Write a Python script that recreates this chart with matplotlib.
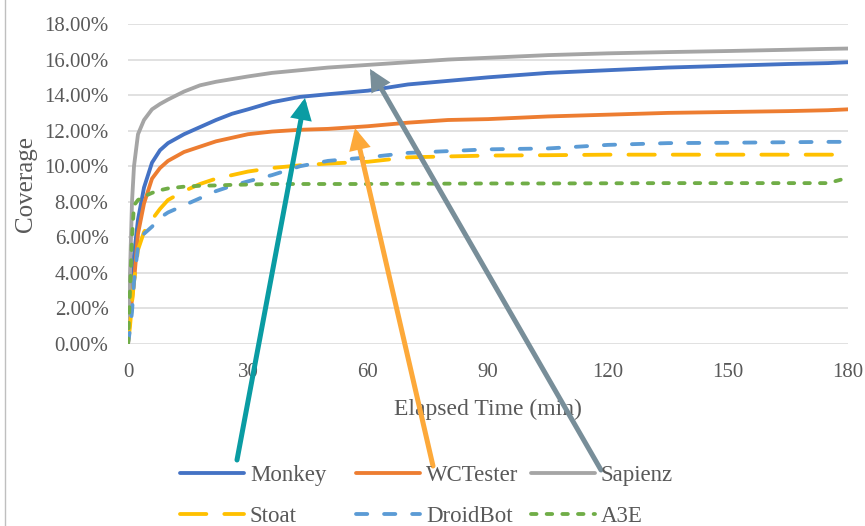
import matplotlib
matplotlib.use("Agg")
import matplotlib.pyplot as plt
from matplotlib.ticker import PercentFormatter, MultipleLocator
from matplotlib.lines import Line2D

# ---- data: coverage (%) over elapsed time (min) ----
minutes = [0, 0.5, 1, 1.5, 2.5, 4, 6, 8, 10, 14, 18, 22, 26, 30, 36, 43, 50,
           60, 70, 80, 90, 105, 120, 135, 150, 165, 175, 180]

monkey = [0, 2.0, 3.5, 5.0, 7.0, 8.8, 10.2, 10.9, 11.3, 11.8, 12.2, 12.6, 12.95,
          13.2, 13.6, 13.9, 14.05, 14.25, 14.6, 14.8, 15.0, 15.25, 15.4, 15.55,
          15.65, 15.75, 15.8, 15.85]
wctester = [0, 1.5, 2.5, 3.5, 6.2, 7.9, 9.3, 9.9, 10.3, 10.8, 11.1, 11.4, 11.6,
            11.8, 11.95, 12.05, 12.1, 12.25, 12.45, 12.6, 12.65, 12.8, 12.9,
            13.0, 13.05, 13.1, 13.15, 13.2]
sapienz = [0, 4.0, 8.0, 10.0, 11.8, 12.6, 13.2, 13.5, 13.75, 14.2, 14.55, 14.75,
           14.9, 15.05, 15.25, 15.4, 15.55, 15.7, 15.85, 16.0, 16.1, 16.25,
           16.35, 16.42, 16.48, 16.55, 16.6, 16.62]
stoat = [0, 1.0, 2.3, 3.5, 5.3, 6.3, 7.0, 7.6, 8.1, 8.6, 9.0, 9.3, 9.5, 9.7, 9.9,
         10.05, 10.15, 10.25, 10.5, 10.55, 10.6, 10.62, 10.65, 10.65, 10.65,
         10.65, 10.65, 10.65]
droidbot = [0, 0.8, 1.8, 3.5, 5.5, 6.2, 6.6, 7.1, 7.4, 7.8, 8.2, 8.6, 8.9, 9.15,
            9.5, 10.0, 10.3, 10.5, 10.75, 10.85, 10.95, 11.0, 11.2, 11.3, 11.32,
            11.35, 11.37, 11.37]
a3e = [0, 3.0, 6.0, 7.8, 8.1, 8.3, 8.5, 8.65, 8.75, 8.85, 8.9, 8.92, 8.95, 8.97,
       9.0, 9.0, 9.0, 9.0, 9.02, 9.02, 9.03, 9.03, 9.04, 9.05, 9.05, 9.05,
       9.05, 9.35]

tool_names = ["Monkey", "WCTester", "Sapienz", "Stoat", "DroidBot", "A3E"]
x_ticks = [0, 30, 60, 90, 120, 150, 180]

# annotation arrows: (target time, target coverage, tail in figure pixels, colour)
arrow_targets = [
    (44.25, 13.84, (237, 66), "#0A9CA3"),
    (56.75, 12.15, (433, 60), "#FDA93A"),
    (60.5, 15.47, (601, 56), "#788E99"),
]

# ---- styling ----
plt.rcParams["font.family"] = ["Liberation Serif", "DejaVu Serif"]
TEXT = "#595959"
W, H = 865, 526

series = [
    (monkey, "#4472C4", "-"),
    (wctester, "#ED7D31", "-"),
    (sapienz, "#A5A5A5", "-"),
    (stoat, "#FFC000", (0, (6.9, 4.7))),
    (droidbot, "#5B9BD5", (0, (2.95, 4.4))),
    (a3e, "#70AD47", (0, (1.45, 2.65))),
]

fig = plt.figure(figsize=(W / 100, H / 100), dpi=100)
ax = fig.add_axes([128 / W, 1 - 344 / H, 720 / W, 320 / H])

handles = []
for (vals, color, ls), name in zip(series, tool_names):
    (ln,) = ax.plot(minutes, vals, color=color, linestyle=ls, lw=2.75,
                    solid_capstyle="round", dash_capstyle="round",
                    solid_joinstyle="round", label=name, zorder=3)
    handles.append(ln)

ax.set_xlim(0, 180)
ax.set_ylim(0, 18)
ax.set_xticks(x_ticks)
ax.yaxis.set_major_locator(MultipleLocator(2))
ax.yaxis.set_major_formatter(PercentFormatter(xmax=100, decimals=2))
ax.grid(axis="y", color="#D9D9D9", lw=1.1, zorder=0)
ax.grid(axis="x", visible=False)
for sp in ax.spines.values():
    sp.set_visible(False)
ax.tick_params(axis="both", length=0, labelsize=15, colors=TEXT)
ax.tick_params(axis="x", pad=14)
ax.tick_params(axis="y", pad=14)
ax.set_xlabel("Elapsed Time (min)", fontsize=17, color=TEXT, labelpad=12)
ax.set_ylabel("Coverage", fontsize=18, color=TEXT, labelpad=5)

# arrows
for tx, ty, tail, color in arrow_targets:
    ax.annotate("", xy=(tx, ty), xycoords="data",
                xytext=tail, textcoords="figure pixels",
                annotation_clip=False,
                arrowprops=dict(arrowstyle="-|>,head_length=10,head_width=5",
                                mutation_scale=1, lw=3.6, color=color,
                                shrinkA=0, shrinkB=0, joinstyle="miter"),
                zorder=5)

# legend: three columns, two rows
col_x = [180, 356, 531]
for i, x0 in enumerate(col_x):
    fig.legend([handles[i], handles[i + 3]], [tool_names[i], tool_names[i + 3]],
               loc="upper left", bbox_to_anchor=(x0 / W, 1 - 465 / H),
               bbox_transform=fig.transFigure, frameon=False, borderpad=0,
               borderaxespad=0, handlelength=2.8, handletextpad=0.25,
               labelspacing=0.85, fontsize=16.5, labelcolor=TEXT)

# chart-area border on the left
fig.add_artist(Line2D([4.5 / W, 4.5 / W], [0, 1], transform=fig.transFigure,
                      color="#BFBFBF", lw=1))

fig.savefig("out.png", dpi=100)
